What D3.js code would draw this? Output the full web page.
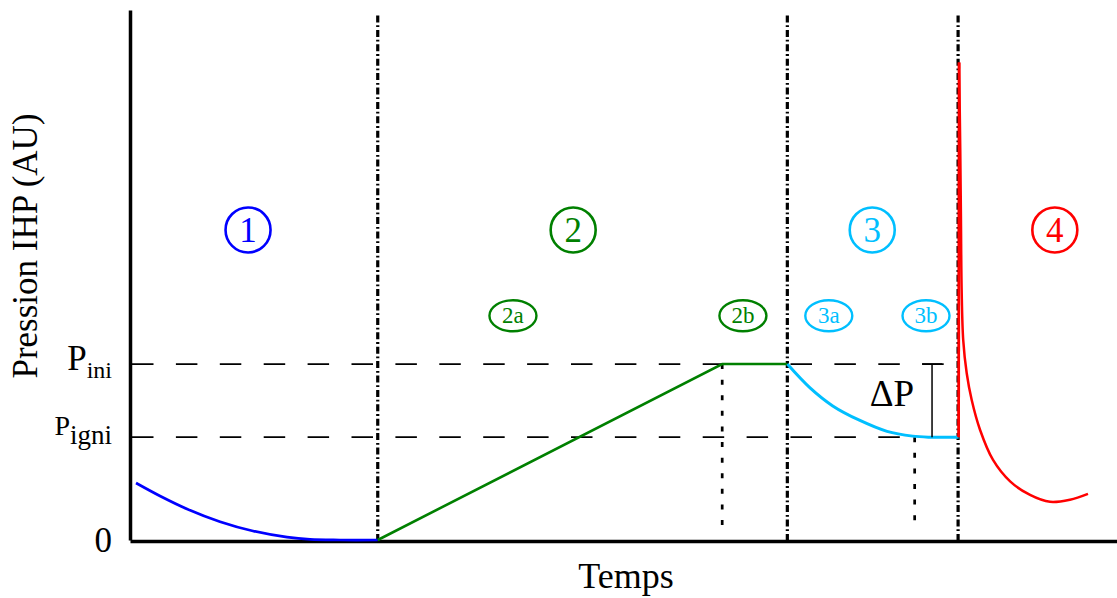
<!DOCTYPE html>
<html><head><meta charset="utf-8">
<script src="https://cdn.jsdelivr.net/npm/d3@7"></script>
<style>
body{margin:0;background:#fff}
svg{display:block}
text, tspan{font-family:"Liberation Serif","Times New Roman",serif}
</style>
</head><body>
<svg id="chart" width="1117" height="598"></svg>
<script>
// ---------- data (time and pressure in arbitrary units) ----------
const levelNames = ["0", "P", "P"];
const levelSubs = ["", "ini", "igni"];
const levelValues = [0, 33.2, 19.4];

const phaseBounds = [25.1, 66.6, 83.9];      // dash-dot separators
const subBoundsX = [60.0, 79.5];             // dotted markers
const subBoundsTop = [33.2, 19.4];

const phase1X = [0.61, 3.04, 5.78, 9.12, 12.46, 15.91, 18.24, 21.28, 25.1];
const phase1Y = [10.75, 8.3, 5.85, 3.45, 1.7, 0.53, 0.11, 0, 0];

const phase2X = [25.1, 60.0, 66.6];
const phase2Y = [0, 33.2, 33.2];

const phase3X = [66.6, 68.9, 71.2, 73.9, 76.7, 79.3, 81.0, 83.95];
const phase3Y = [33.2, 28.7, 25.3, 22.6, 20.5, 19.6, 19.4, 19.4];

const phase4RiseX = [83.95, 84.0];
const phase4RiseY = [19.4, 90.1];
const phase4X = [84.0, 84.12, 84.19, 84.26, 84.42, 84.77, 85.28, 86.12, 87.44, 89.2, 91.19, 93.21, 95.24, 97.06];
const phase4Y = [90.1, 73.6, 60.4, 47.2, 37.7, 31.5, 26.4, 20.8, 15.1, 11.0, 8.5, 7.2, 7.6, 8.7];

const phaseLabels = ["1", "2", "3", "4"];
const phaseLabelX = [11.96, 44.9, 75.2, 93.7];
const phaseLabelY = 58.5;

const subLabels = ["2a", "2b", "3a", "3b"];
const subLabelX = [38.8, 62.1, 70.8, 80.65];
const subLabelY = 42.3;

const deltaX = 81.26;
const deltaLabel = "ΔP";
const deltaLabelX = 77.2;

const xTitle = "Temps";
const yTitle = "Pression IHP (AU)";

// ---------- styles ----------
const colors = ["#0000ff", "#008000", "#00bfff", "#ff0000"];

const svg = d3.select("#chart");
const x = d3.scaleLinear().domain([0, 100]).range([130, 1117]);
const y = d3.scaleLinear().domain([0, 100]).range([540, 10]);

// horizontal dashed reference levels
svg.selectAll("line.level").data(levelValues.slice(1)).join("line")
  .attr("class", "level")
  .attr("x1", x(0) + 2).attr("x2", x(phaseBounds[2]))
  .attr("y1", d => y(d)).attr("y2", d => y(d))
  .attr("stroke", "#000").attr("stroke-width", 1.8)
  .attr("stroke-dasharray", "21.5,22.4");

// dash-dot phase separators
svg.selectAll("line.sep").data(phaseBounds).join("line")
  .attr("class", "sep")
  .attr("x1", d => x(d)).attr("x2", d => x(d))
  .attr("y1", 15.5).attr("y2", y(0))
  .attr("stroke", "#000").attr("stroke-width", 3.2)
  .attr("stroke-dasharray", "7,2.8,1.8,2.8");

// dotted sub-phase markers
svg.selectAll("line.sub").data(subBoundsX).join("line")
  .attr("class", "sub")
  .attr("x1", d => x(d)).attr("x2", d => x(d))
  .attr("y1", (d, i) => y(subBoundsTop[i])).attr("y2", y(0) - 12)
  .attr("stroke", "#000").attr("stroke-width", 2.7)
  .attr("stroke-dasharray", "5,10.6");

// axes
const yAxis = d3.axisLeft(y).tickValues([]).tickSizeOuter(0);
const xAxis = d3.axisBottom(x).tickValues([]).tickSizeOuter(0);
svg.append("g").attr("transform", `translate(${x(0)},0)`).call(yAxis)
  .select(".domain").attr("stroke-width", 3.5);
svg.append("g").attr("transform", `translate(0,${y(0) + 1})`).call(xAxis)
  .select(".domain").attr("stroke-width", 3.5);

// level labels
const lvlFont = [35, 35, 28];
const subFont = [0, 24, 27];
const lvl = svg.selectAll("text.lvl").data(levelValues).join("text")
  .attr("class", "lvl")
  .attr("text-anchor", "end")
  .attr("x", 112)
  .attr("y", (d, i) => y(d) + [12, 6, -2][i])
  .attr("font-size", (d, i) => lvlFont[i]);
lvl.append("tspan").text((d, i) => levelNames[i]);
lvl.filter((d, i) => levelSubs[i] !== "").append("tspan")
  .attr("font-size", (d, i) => subFont[i + 1])
  .attr("dy", (d, i) => [8, 9][i])
  .text((d, i) => levelSubs[i + 1]);

// curves
const smooth = d3.line().x(d => x(d[0])).y(d => y(d[1])).curve(d3.curveCatmullRom.alpha(0.5));
const lin = d3.line().x(d => x(d[0])).y(d => y(d[1]));
const zip = (a, b) => a.map((v, i) => [v, b[i]]);

svg.append("path").datum(zip(phase1X, phase1Y)).attr("d", smooth)
  .attr("fill", "none").attr("stroke", colors[0]).attr("stroke-width", 2.7);
svg.append("path").datum(zip(phase2X, phase2Y)).attr("d", lin)
  .attr("fill", "none").attr("stroke", colors[1]).attr("stroke-width", 2.6);
svg.append("path").datum(zip(phase3X, phase3Y)).attr("d", smooth)
  .attr("fill", "none").attr("stroke", colors[2]).attr("stroke-width", 3);
svg.append("path").datum(zip(phase4RiseX, phase4RiseY)).attr("d", lin)
  .attr("fill", "none").attr("stroke", colors[3]).attr("stroke-width", 2.8);
svg.append("path").datum(zip(phase4X, phase4Y)).attr("d", smooth)
  .attr("fill", "none").attr("stroke", colors[3]).attr("stroke-width", 2.5);

// delta P bracket
const br = svg.append("g").attr("stroke", "#000").attr("stroke-width", 1.5);
br.append("line").attr("x1", x(deltaX)).attr("x2", x(deltaX))
  .attr("y1", y(levelValues[1])).attr("y2", y(levelValues[2]));
br.append("line").attr("x1", x(deltaX) - 10).attr("x2", x(deltaX) + 10)
  .attr("y1", y(levelValues[1])).attr("y2", y(levelValues[1]));
svg.append("text").attr("x", x(deltaLabelX)).attr("y", y(levelValues[2]) - 31)
  .attr("text-anchor", "middle").attr("font-size", 37).text(deltaLabel);

// circled phase labels
const pl = svg.selectAll("g.pl").data(phaseLabels).join("g").attr("class", "pl")
  .attr("transform", (d, i) => `translate(${x(phaseLabelX[i])},${y(phaseLabelY)})`);
pl.append("circle").attr("r", 22.5).attr("fill", "none")
  .attr("stroke", (d, i) => colors[i]).attr("stroke-width", 2.6);
pl.append("text").attr("text-anchor", "middle").attr("y", 12)
  .attr("font-size", 35).attr("fill", (d, i) => colors[i]).text(d => d);

// ellipse sub-phase labels
const subColor = [colors[1], colors[1], colors[2], colors[2]];
const sl = svg.selectAll("g.sl").data(subLabels).join("g").attr("class", "sl")
  .attr("transform", (d, i) => `translate(${x(subLabelX[i])},${y(subLabelY)})`);
sl.append("ellipse").attr("rx", 23.5).attr("ry", 15.5).attr("fill", "none")
  .attr("stroke", (d, i) => subColor[i]).attr("stroke-width", 2.4);
sl.append("text").attr("text-anchor", "middle").attr("y", 7.5)
  .attr("font-size", 23).attr("fill", (d, i) => subColor[i]).text(d => d);

// axis titles
svg.append("text").attr("x", 626).attr("y", 588).attr("text-anchor", "middle")
  .attr("font-size", 36).text(xTitle);
svg.append("text").attr("transform", "translate(37,246) rotate(-90)")
  .attr("text-anchor", "middle").attr("font-size", 35).text(yTitle);
</script>
</body></html>
